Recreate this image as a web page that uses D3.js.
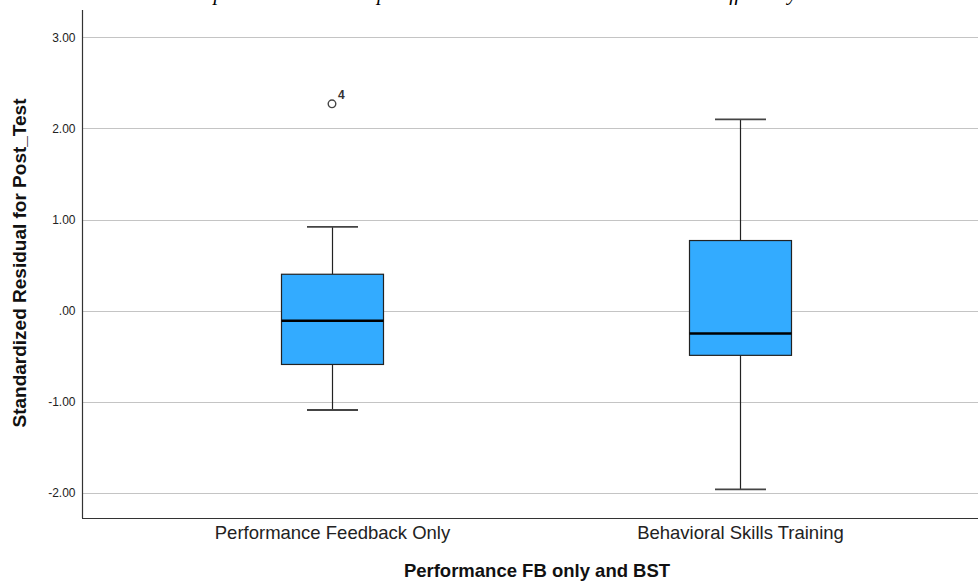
<!DOCTYPE html>
<html>
<head>
<meta charset="utf-8">
<script src="https://cdn.jsdelivr.net/npm/d3@7"></script>
<style>
  html, body { margin: 0; padding: 0; background: #fff; }
  svg { display: block; }
</style>
</head>
<body>
<svg id="chart" width="978" height="585"></svg>
<script>
// ---- data ----
const categories = ["Performance Feedback Only", "Behavioral Skills Training"];
const whiskerLow  = [-1.09, -1.96];
const q1          = [-0.59, -0.49];
const median      = [-0.11, -0.25];
const q3          = [0.40, 0.77];
const whiskerHigh = [0.92, 2.10];
const outliers    = [{ cat: "Performance Feedback Only", value: 2.27, label: "4" }];
const yTicks      = [-2, -1, 0, 1, 2, 3];
const yTitle = "Standardized Residual for Post_Test";
const xTitle = "Performance FB only and BST";
const chartTitle = "Boxplot: Residuals Compared Across Intervention Conditions and Efficiency";

// ---- layout ----
const W = 978, H = 585;
const pLeft = 82, pTop = 10, pBottom = 518, pRight = 990;
const svg = d3.select("#chart");

const y = d3.scaleLinear().domain([-2.275, 3.30]).range([pBottom, pTop]);
const x = d3.scalePoint().domain(categories).range([pLeft, pRight]).padding(0.6127);

const fmt = v => {
  const s = d3.format(".2f")(v).replace("\u2212", "-");
  return s.replace(/^0\./, ".").replace(/^-0\./, "-.");
};

// title (cut off at top, as in the reference)
svg.append("text")
  .attr("x", 182).attr("y", 0)
  .attr("textLength", 615).attr("lengthAdjust", "spacing")
  .attr("font-family", "'Liberation Serif', 'Times New Roman', serif")
  .attr("font-style", "italic").attr("font-size", 21)
  .attr("fill", "#000")
  .text(chartTitle);

// gridlines
svg.append("g").selectAll("line").data(yTicks).join("line")
  .attr("x1", pLeft).attr("x2", W)
  .attr("y1", d => Math.round(y(d)) + 0.5).attr("y2", d => Math.round(y(d)) + 0.5)
  .attr("stroke", "#c4c4c4").attr("stroke-width", 1.2);

// y axis
const yAxis = d3.axisLeft(y).tickValues(yTicks).tickFormat(fmt).tickSize(0).tickPadding(7);
const gy = svg.append("g").attr("transform", `translate(${pLeft + 0.5},0)`).call(yAxis);
gy.select(".domain").remove();
gy.selectAll("text").attr("font-family", "'Liberation Sans', Arial, sans-serif")
  .attr("font-size", 12).attr("fill", "#222");

// axis lines
svg.append("line").attr("x1", pLeft + 0.5).attr("x2", pLeft + 0.5).attr("y1", pTop).attr("y2", pBottom)
  .attr("stroke", "#333").attr("stroke-width", 1.2);
svg.append("line").attr("x1", pLeft).attr("x2", W).attr("y1", pBottom + 0.5).attr("y2", pBottom + 0.5)
  .attr("stroke", "#333").attr("stroke-width", 1.2);

// x axis labels
const xAxis = d3.axisBottom(x).tickSize(0).tickPadding(8);
const gx = svg.append("g").attr("transform", `translate(0,${pBottom})`).call(xAxis);
gx.select(".domain").remove();
gx.selectAll("text").attr("font-family", "'Liberation Sans', Arial, sans-serif")
  .attr("font-size", 18.5).attr("fill", "#222");

// boxes
const boxW = 102, capW = 51;
const boxes = categories.map((c, i) => ({
  c, lo: whiskerLow[i], q1: q1[i], med: median[i], q3: q3[i], hi: whiskerHigh[i]
}));
const gb = svg.append("g").selectAll("g").data(boxes).join("g")
  .attr("transform", d => `translate(${Math.round(x(d.c)) + 0.5},0)`);

// whisker stems
gb.append("line").attr("x1", 0).attr("x2", 0)
  .attr("y1", d => y(d.hi)).attr("y2", d => y(d.q3))
  .attr("stroke", "#222").attr("stroke-width", 1.2);
gb.append("line").attr("x1", 0).attr("x2", 0)
  .attr("y1", d => y(d.q1)).attr("y2", d => y(d.lo))
  .attr("stroke", "#222").attr("stroke-width", 1.2);
// caps
gb.append("line").attr("x1", -capW / 2).attr("x2", capW / 2)
  .attr("y1", d => y(d.hi)).attr("y2", d => y(d.hi))
  .attr("stroke", "#444").attr("stroke-width", 1.8);
gb.append("line").attr("x1", -capW / 2).attr("x2", capW / 2)
  .attr("y1", d => y(d.lo)).attr("y2", d => y(d.lo))
  .attr("stroke", "#444").attr("stroke-width", 1.8);
// box
gb.append("rect").attr("x", -boxW / 2).attr("width", boxW)
  .attr("y", d => y(d.q3)).attr("height", d => y(d.q1) - y(d.q3))
  .attr("fill", "#33abff").attr("stroke", "#222").attr("stroke-width", 1.2);
// median
gb.append("line").attr("x1", -boxW / 2).attr("x2", boxW / 2)
  .attr("y1", d => y(d.med)).attr("y2", d => y(d.med))
  .attr("stroke", "#000").attr("stroke-width", 2.6);

// outliers
const go = svg.append("g").selectAll("g").data(outliers).join("g")
  .attr("transform", d => `translate(${x(d.cat)},${y(d.value)})`);
go.append("circle").attr("r", 3.8).attr("fill", "#fff").attr("stroke", "#444").attr("stroke-width", 1.4);
go.append("text").attr("x", 6).attr("y", -5)
  .attr("font-family", "'Liberation Sans', Arial, sans-serif")
  .attr("font-size", 12).attr("font-weight", "bold").attr("fill", "#333")
  .text(d => d.label);

// axis titles
svg.append("text")
  .attr("transform", `translate(26,263) rotate(-90)`)
  .attr("text-anchor", "middle")
  .attr("font-family", "'Liberation Sans', Arial, sans-serif")
  .attr("font-size", 19).attr("font-weight", "bold").attr("fill", "#111")
  .text(yTitle);

svg.append("text")
  .attr("x", 537).attr("y", 577)
  .attr("text-anchor", "middle")
  .attr("font-family", "'Liberation Sans', Arial, sans-serif")
  .attr("font-size", 18.5).attr("font-weight", "bold").attr("fill", "#111")
  .text(xTitle);
</script>
</body>
</html>
